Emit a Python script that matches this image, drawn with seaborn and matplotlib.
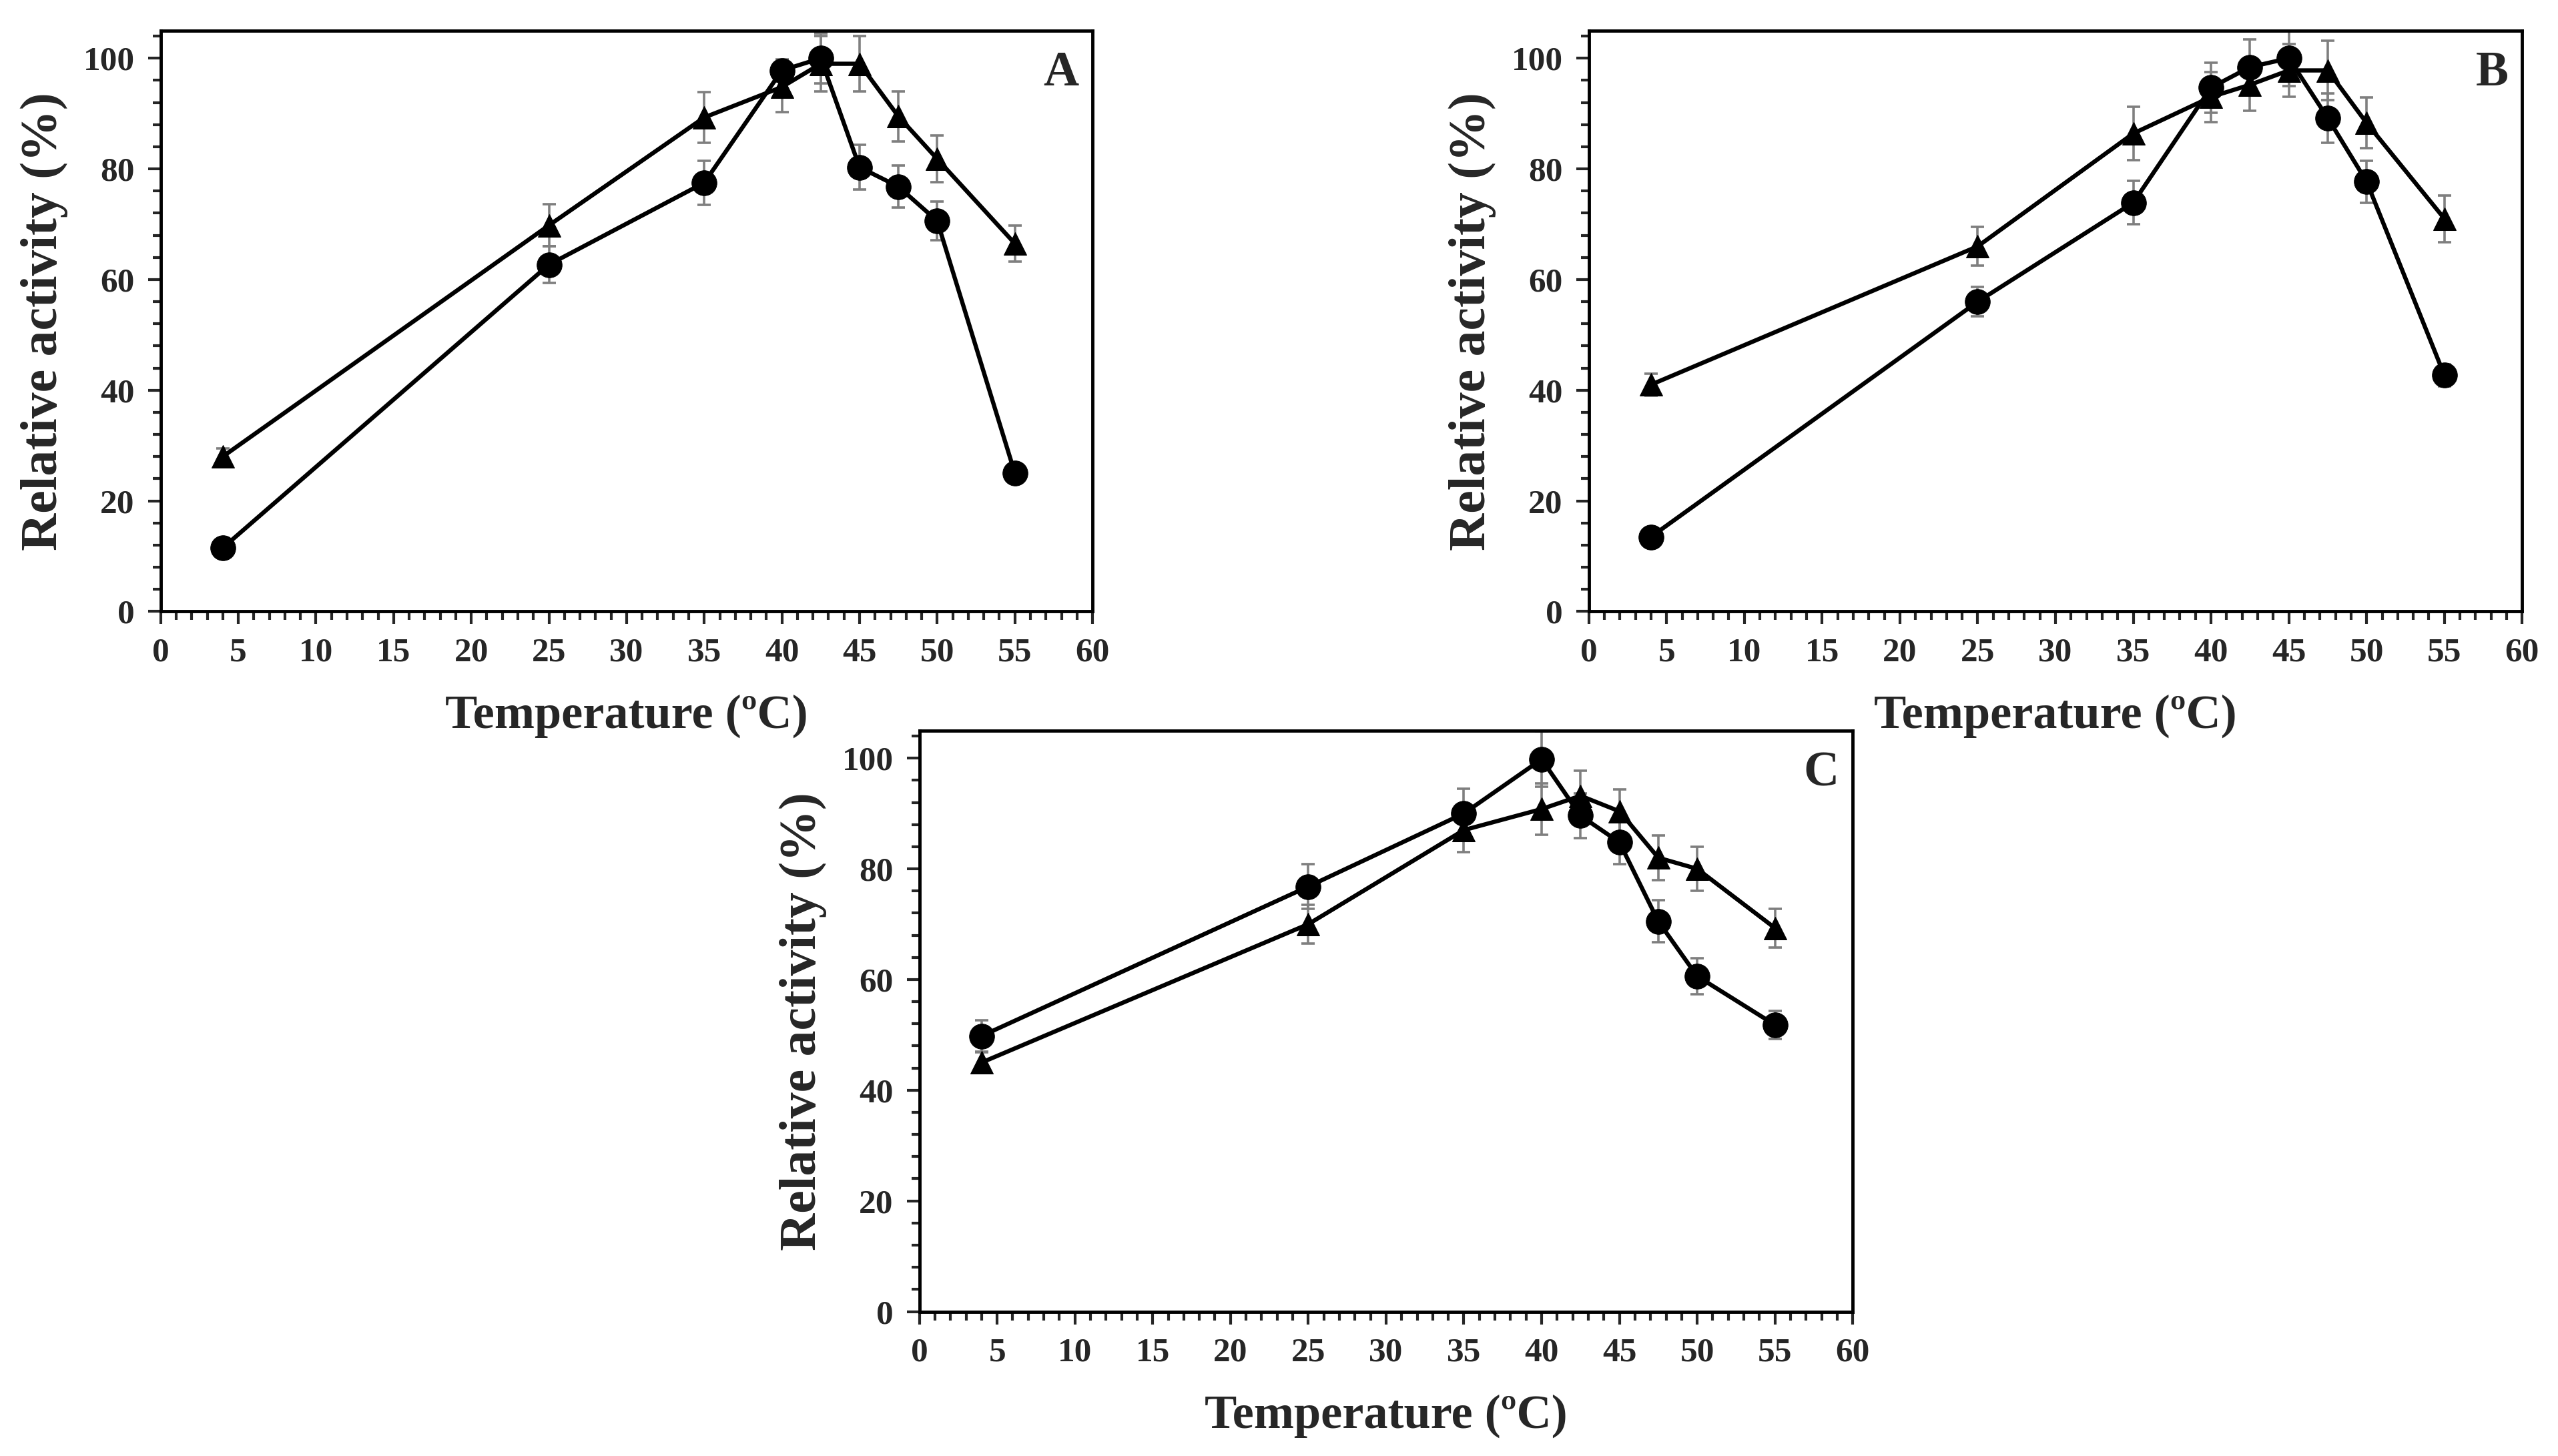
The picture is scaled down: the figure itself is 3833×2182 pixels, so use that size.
import numpy as np
import pandas as pd
import matplotlib
matplotlib.use("Agg")
import matplotlib.pyplot as plt
from matplotlib.ticker import MultipleLocator
import seaborn as sns

# Data
temps = [4, 25, 35, 40, 42.5, 45, 47.5, 50, 55]

a_circle = [11.5, 62.7, 77.5, 97.8, 100, 80.3, 76.8, 70.6, 25]
a_circle_err = [0.8, 3.3, 4, 2, 4.5, 4, 3.8, 3.5, 0.8]
a_tri = [28, 69.8, 89.3, 94.8, 99, 99, 89.5, 81.8, 66.5]
a_tri_err = [1.5, 3.8, 4.6, 4.5, 5, 5, 4.5, 4.2, 3.3]

b_circle = [13.5, 56, 73.9, 94.7, 98.4, 100, 89.2, 77.7, 42.7]
b_circle_err = [0.8, 2.7, 3.9, 4.5, 5, 5, 4.5, 3.8, 2]
b_tri = [41, 66, 86.4, 93, 95.2, 97.8, 97.8, 88.3, 71]
b_tri_err = [2, 3.5, 4.8, 4.5, 4.7, 4.8, 5.4, 4.6, 4.2]

c_circle = [49.8, 76.8, 90, 99.8, 89.6, 84.8, 70.5, 60.6, 51.8]
c_circle_err = [2.8, 4, 4.5, 5, 4, 4, 3.8, 3.3, 2.5]
c_tri = [45, 70, 87, 90.8, 93.2, 90.4, 82, 80, 69.3]
c_tri_err = [1.8, 3.5, 4, 4.6, 4.5, 4, 4, 4, 3.5]

panel_letters = ["A", "B", "C"]


def draw_panel(ax, circle, circle_err, tri, tri_err, letter):
    df = pd.DataFrame({"temp": temps, "circle": circle, "tri": tri})
    # error bars first so the markers cover the short ones
    ax.errorbar(temps, tri, yerr=tri_err, fmt="none", ecolor="#7f7f7f",
                elinewidth=2.6, capsize=7, capthick=2.6, zorder=2)
    ax.errorbar(temps, circle, yerr=circle_err, fmt="none", ecolor="#7f7f7f",
                elinewidth=2.6, capsize=7, capthick=2.6, zorder=2)
    sns.lineplot(data=df, x="temp", y="tri", ax=ax, color="black", lw=4.6,
                 marker="^", markersize=25, markeredgecolor="black", zorder=3)
    sns.lineplot(data=df, x="temp", y="circle", ax=ax, color="black", lw=4.6,
                 marker="o", markersize=27, markeredgecolor="black", zorder=3)

    ax.set_xlim(0, 60)
    ax.set_ylim(0, 105)
    ax.xaxis.set_major_locator(MultipleLocator(5))
    ax.xaxis.set_minor_locator(MultipleLocator(1))
    ax.yaxis.set_major_locator(MultipleLocator(20))
    ax.yaxis.set_minor_locator(MultipleLocator(4))
    ax.tick_params(axis="both", which="major", direction="out", length=14,
                   width=3, labelsize=37, pad=14, top=False, right=False)
    ax.tick_params(axis="both", which="minor", direction="out", length=9,
                   width=3, top=False, right=False)
    for lab in ax.get_xticklabels() + ax.get_yticklabels():
        lab.set_fontweight("bold")
    for sp in ax.spines.values():
        sp.set_linewidth(3.5)
        sp.set_color("black")
        sp.set_visible(True)

    ax.set_xlabel("Temperature (ºC)", fontsize=52, fontweight="bold", labelpad=28)
    ax.set_ylabel("Relative activity (%)", fontsize=56, fontweight="bold", labelpad=16)
    ax.text(0.985, 0.965, letter, transform=ax.transAxes, ha="right", va="top",
            fontsize=53, fontweight="bold")


def main():
    sns.set_theme(style="ticks")
    plt.rcParams["font.family"] = ["Liberation Serif", "DejaVu Serif"]

    fig = plt.figure(figsize=(38.33, 21.82), dpi=100)
    ax_a = fig.add_axes([0.0628, 0.580, 0.3643, 0.399])
    ax_b = fig.add_axes([0.6211, 0.580, 0.3649, 0.399])
    ax_c = fig.add_axes([0.3594, 0.0992, 0.3649, 0.3991])

    draw_panel(ax_a, a_circle, a_circle_err, a_tri, a_tri_err, panel_letters[0])
    draw_panel(ax_b, b_circle, b_circle_err, b_tri, b_tri_err, panel_letters[1])
    draw_panel(ax_c, c_circle, c_circle_err, c_tri, c_tri_err, panel_letters[2])

    fig.savefig("out.png", dpi=100, facecolor="white")
    plt.close(fig)


if __name__ == "__main__":
    main()
